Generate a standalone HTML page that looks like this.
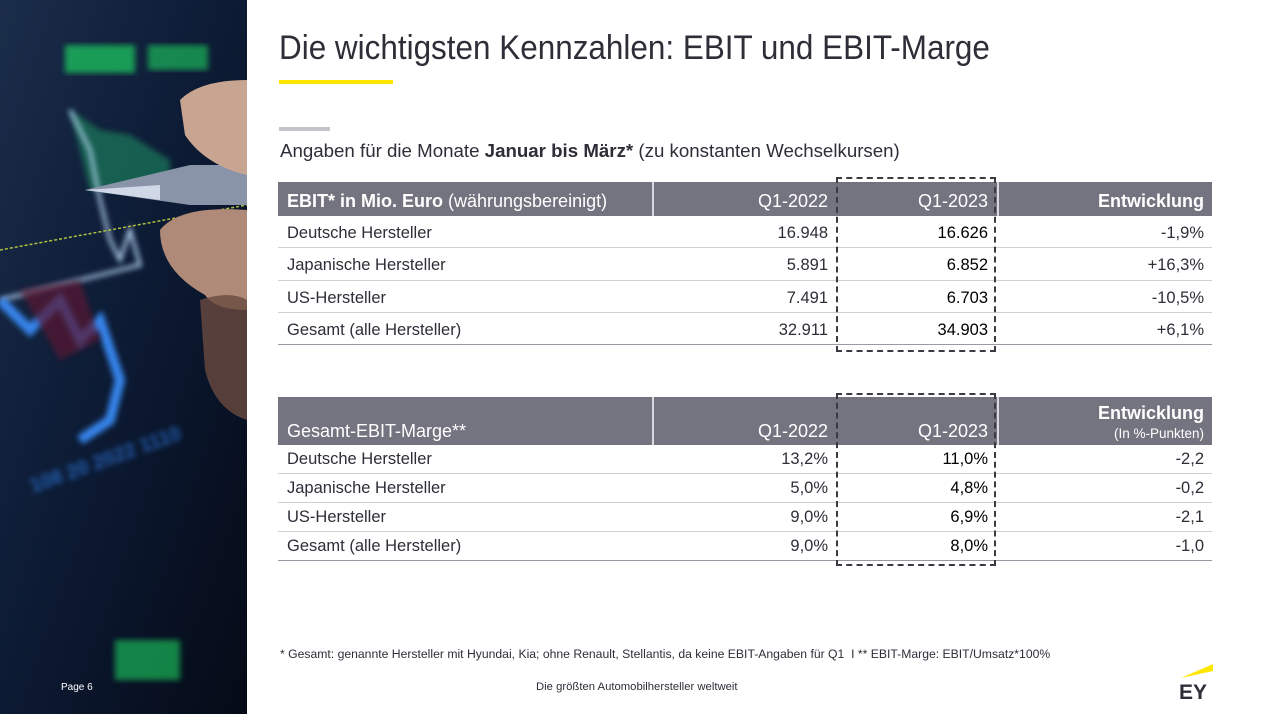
<!DOCTYPE html>
<html><head><meta charset="utf-8"><style>
*{margin:0;padding:0;box-sizing:border-box}
body{width:1272px;height:714px;background:#fff;position:relative;overflow:hidden;font-family:"Liberation Sans",sans-serif;color:#2e2e38}
.abs{position:absolute}
.title{left:279px;top:29px;font-size:34px;color:#2e2e38;white-space:nowrap;transform:scaleX(0.925);transform-origin:left top;font-weight:300}
.hdr{position:absolute;background:#747480;color:#fff;font-size:18px}
.hdr div{position:absolute;white-space:nowrap}
.row{position:absolute;left:278px;width:934px;border-bottom:1px solid #d0d0d4;font-size:16.5px}
.row div{position:absolute;white-space:nowrap}
.dash{position:absolute;border:2px dashed #3a3a40}
</style></head><body>
<svg class="abs" style="left:0;top:0" width="247" height="714">
<defs><linearGradient id="g" x1="0" y1="0" x2="1" y2="1"><stop offset="0" stop-color="#1a2d4a"/><stop offset="0.5" stop-color="#0c1a33"/><stop offset="1" stop-color="#050a16"/></linearGradient>
<filter id="b"><feGaussianBlur stdDeviation="3"/></filter></defs>
<rect width="247" height="714" fill="url(#g)"/>
<rect x="65" y="45" width="70" height="28" fill="#1fd060" opacity="0.7" filter="url(#b)"/>
<rect x="148" y="45" width="60" height="25" fill="#1fd060" opacity="0.6" filter="url(#b)"/>
<polygon points="70,110 100,130 130,135 170,160 170,190 90,190" fill="#1a8a60" opacity="0.6" filter="url(#b)"/>
<polyline points="70,110 90,150 100,200 110,240 120,260 130,230 140,265 0,300" fill="none" stroke="#c0e0ff" stroke-width="3" filter="url(#b)"/>
<polyline points="0,300 30,330 60,300 80,340 100,320 120,380 110,420 80,440" fill="none" stroke="#3a90ff" stroke-width="10" opacity="0.9" filter="url(#b)"/>
<polygon points="20,290 80,280 100,340 60,360" fill="#5a1830" opacity="0.7" filter="url(#b)"/>
<line x1="0" y1="250" x2="247" y2="205" stroke="#b0c040" stroke-width="1.5" stroke-dasharray="3,2"/>
<polygon points="85,190 190,165 247,165 247,205 190,205" fill="#8a94a8"/>
<polygon points="85,190 160,185 160,200" fill="#d0d8e8"/>
<path d="M180,100 Q200,80 247,80 L247,175 Q205,165 185,135 Z" fill="#c8a590"/>
<path d="M160,230 Q180,205 247,210 L247,310 Q215,310 205,295 Q160,270 160,230Z" fill="#b08a78"/>
<path d="M200,300 Q230,290 247,300 L247,420 Q215,410 205,370Z" fill="#6a4a40" opacity="0.8"/>
<text x="20" y="460" fill="#2a70d0" font-size="20" font-weight="bold" opacity="0.8" filter="url(#b)" transform="rotate(-20 120 440)">108 20 2022 1110</text>
<rect x="115" y="640" width="65" height="40" fill="#1fd060" opacity="0.6" filter="url(#b)"/>
<text x="61" y="690" fill="#fff" font-size="10">Page 6</text>
</svg>
<div class="abs title">Die wichtigsten Kennzahlen: EBIT und EBIT-Marge</div>
<div class="abs" style="left:279px;top:80px;width:114px;height:4px;background:#ffe600"></div>
<div class="abs" style="left:279px;top:127px;width:51px;height:4px;background:#c4c4cd"></div>
<div class="abs" style="left:280px;top:140px;font-size:18.7px;white-space:nowrap">Angaben für die Monate <b>Januar bis März*</b> (zu konstanten Wechselkursen)</div>

<div class="hdr" style="left:278px;top:182px;width:934px;height:34px">
<div style="left:9px;top:9px"><b>EBIT* in Mio. Euro</b> (währungsbereinigt)</div>
<div style="left:374px;top:0;width:2px;height:34px;background:#d8d8de"></div>
<div style="right:384px;top:9px">Q1-2022</div>
<div style="right:224px;top:9px">Q1-2023</div>
<div style="left:719px;top:0;width:2px;height:34px;background:#d8d8de"></div>
<div style="right:8px;top:9px;font-weight:bold">Entwicklung</div>
</div>
<div id="t1"></div>
<div class="dash" style="left:836px;top:177px;width:160px;height:175px"></div>

<div class="hdr" style="left:278px;top:397px;width:934px;height:48px">
<div style="left:9px;top:24px">Gesamt-EBIT-Marge**</div>
<div style="left:374px;top:0;width:2px;height:48px;background:#d8d8de"></div>
<div style="right:384px;top:24px">Q1-2022</div>
<div style="right:224px;top:24px">Q1-2023</div>
<div style="left:719px;top:0;width:2px;height:48px;background:#d8d8de"></div>
<div style="right:8px;top:6px;font-weight:bold">Entwicklung</div>
<div style="right:8px;top:29px;font-size:13.5px">(In %-Punkten)</div>
</div>
<div id="t2"></div>
<div class="dash" style="left:836px;top:393px;width:160px;height:173px"></div>

<div class="abs" style="left:280px;top:647px;font-size:12.2px;white-space:nowrap">* Gesamt: genannte Hersteller mit Hyundai, Kia; ohne Renault, Stellantis, da keine EBIT-Angaben für Q1 &nbsp;I ** EBIT-Marge: EBIT/Umsatz*100%</div>
<div class="abs" style="left:536px;top:681px;font-size:11.3px;white-space:nowrap">Die größten Automobilhersteller weltweit</div>
<svg class="abs" style="left:1175px;top:660px" width="45" height="42">
<polygon points="6,18 38,4 38,11" fill="#ffe600"/>
<text x="4" y="39" font-size="21" font-weight="bold" fill="#2e2e38" font-family="Liberation Sans">EY</text>
</svg>
<script>
const ebitRows=[["Deutsche Hersteller","16.948","16.626","-1,9%"],["Japanische Hersteller","5.891","6.852","+16,3%"],["US-Hersteller","7.491","6.703","-10,5%"],["Gesamt (alle Hersteller)","32.911","34.903","+6,1%"]];
const margeRows=[["Deutsche Hersteller","13,2%","11,0%","-2,2"],["Japanische Hersteller","5,0%","4,8%","-0,2"],["US-Hersteller","9,0%","6,9%","-2,1"],["Gesamt (alle Hersteller)","9,0%","8,0%","-1,0"]];
function build(id,rows,top,h,prefix,off){
  const c=document.getElementById(id);
  rows.forEach((r,i)=>{
    const d=document.createElement('div');
    d.className='row';
    
    
    d.style.top=(top+i*h)+'px';d.style.height=h+'px';
    if(i===rows.length-1)d.style.borderBottom='1.5px solid #9a9aa4';
    const ty=Math.round((h-19)/2)+off;
    d.innerHTML='<div style="left:9px;top:'+ty+'px">'+r[0]+'</div><div style="right:384px;top:'+ty+'px">'+r[1]+'</div><div style="right:224px;top:'+ty+'px;color:#000">'+r[2]+'</div><div style="right:8px;top:'+ty+'px">'+r[3]+'</div>';
    c.appendChild(d);
  });
}
build('t1',ebitRows,216,32.3,'ebit',1);
build('t2',margeRows,445,29,'marge',0);
</script>
</body></html>
